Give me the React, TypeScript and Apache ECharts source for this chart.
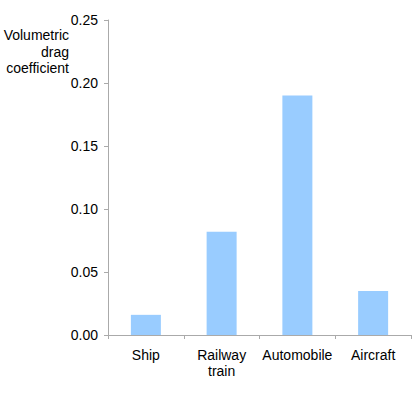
import React, { useEffect, useRef } from "react";
import * as echarts from "echarts";

const categories = ["Ship", "Railway\ntrain", "Automobile", "Aircraft"];
const values = [0.016, 0.082, 0.19, 0.035];
const yAxisName = "Volumetric\ndrag\ncoefficient";

export default function App() {
  const ref = useRef<HTMLDivElement>(null);
  useEffect(() => {
    const chart = echarts.init(ref.current!, null, { renderer: "svg" });
    chart.setOption({
      animation: false,
      grid: { left: 108, right: 2, top: 20, bottom: 61, containLabel: false },
      graphic: [
        {
          type: "text",
          x: 69,
          y: 27,
          style: {
            text: yAxisName,
            align: "right",
            verticalAlign: "top",
            fontSize: 14,
            lineHeight: 16.5,
            fill: "#000",
            fontFamily: "Liberation Sans, Arial, sans-serif",
          },
        },
      ],
      xAxis: {
        type: "category",
        data: categories,
        axisLine: { lineStyle: { color: "#aaaaaa", width: 1 } },
        axisTick: { show: true, length: 4, lineStyle: { color: "#aaaaaa" } },
        axisLabel: {
          interval: 0,
          color: "#000",
          fontSize: 14,
          lineHeight: 16,
          margin: 12,
          fontFamily: "Liberation Sans, Arial, sans-serif",
        },
      },
      yAxis: {
        type: "value",
        min: 0,
        max: 0.25,
        interval: 0.05,
        axisLine: { show: true, lineStyle: { color: "#aaaaaa", width: 1 } },
        axisTick: { show: true, length: 4, lineStyle: { color: "#aaaaaa" } },
        splitLine: { show: false },
        axisLabel: {
          color: "#000",
          fontSize: 14,
          margin: 10,
          formatter: (v: number) => v.toFixed(2),
          fontFamily: "Liberation Sans, Arial, sans-serif",
        },
      },
      series: [
        {
          type: "bar",
          data: values,
          barWidth: 30,
          itemStyle: { color: "#99ccff" },
        },
      ],
    });
    return () => chart.dispose();
  }, []);
  return <div ref={ref} style={{ width: 413, height: 396, position: "absolute", left: 0, top: 0 }} />;
}
